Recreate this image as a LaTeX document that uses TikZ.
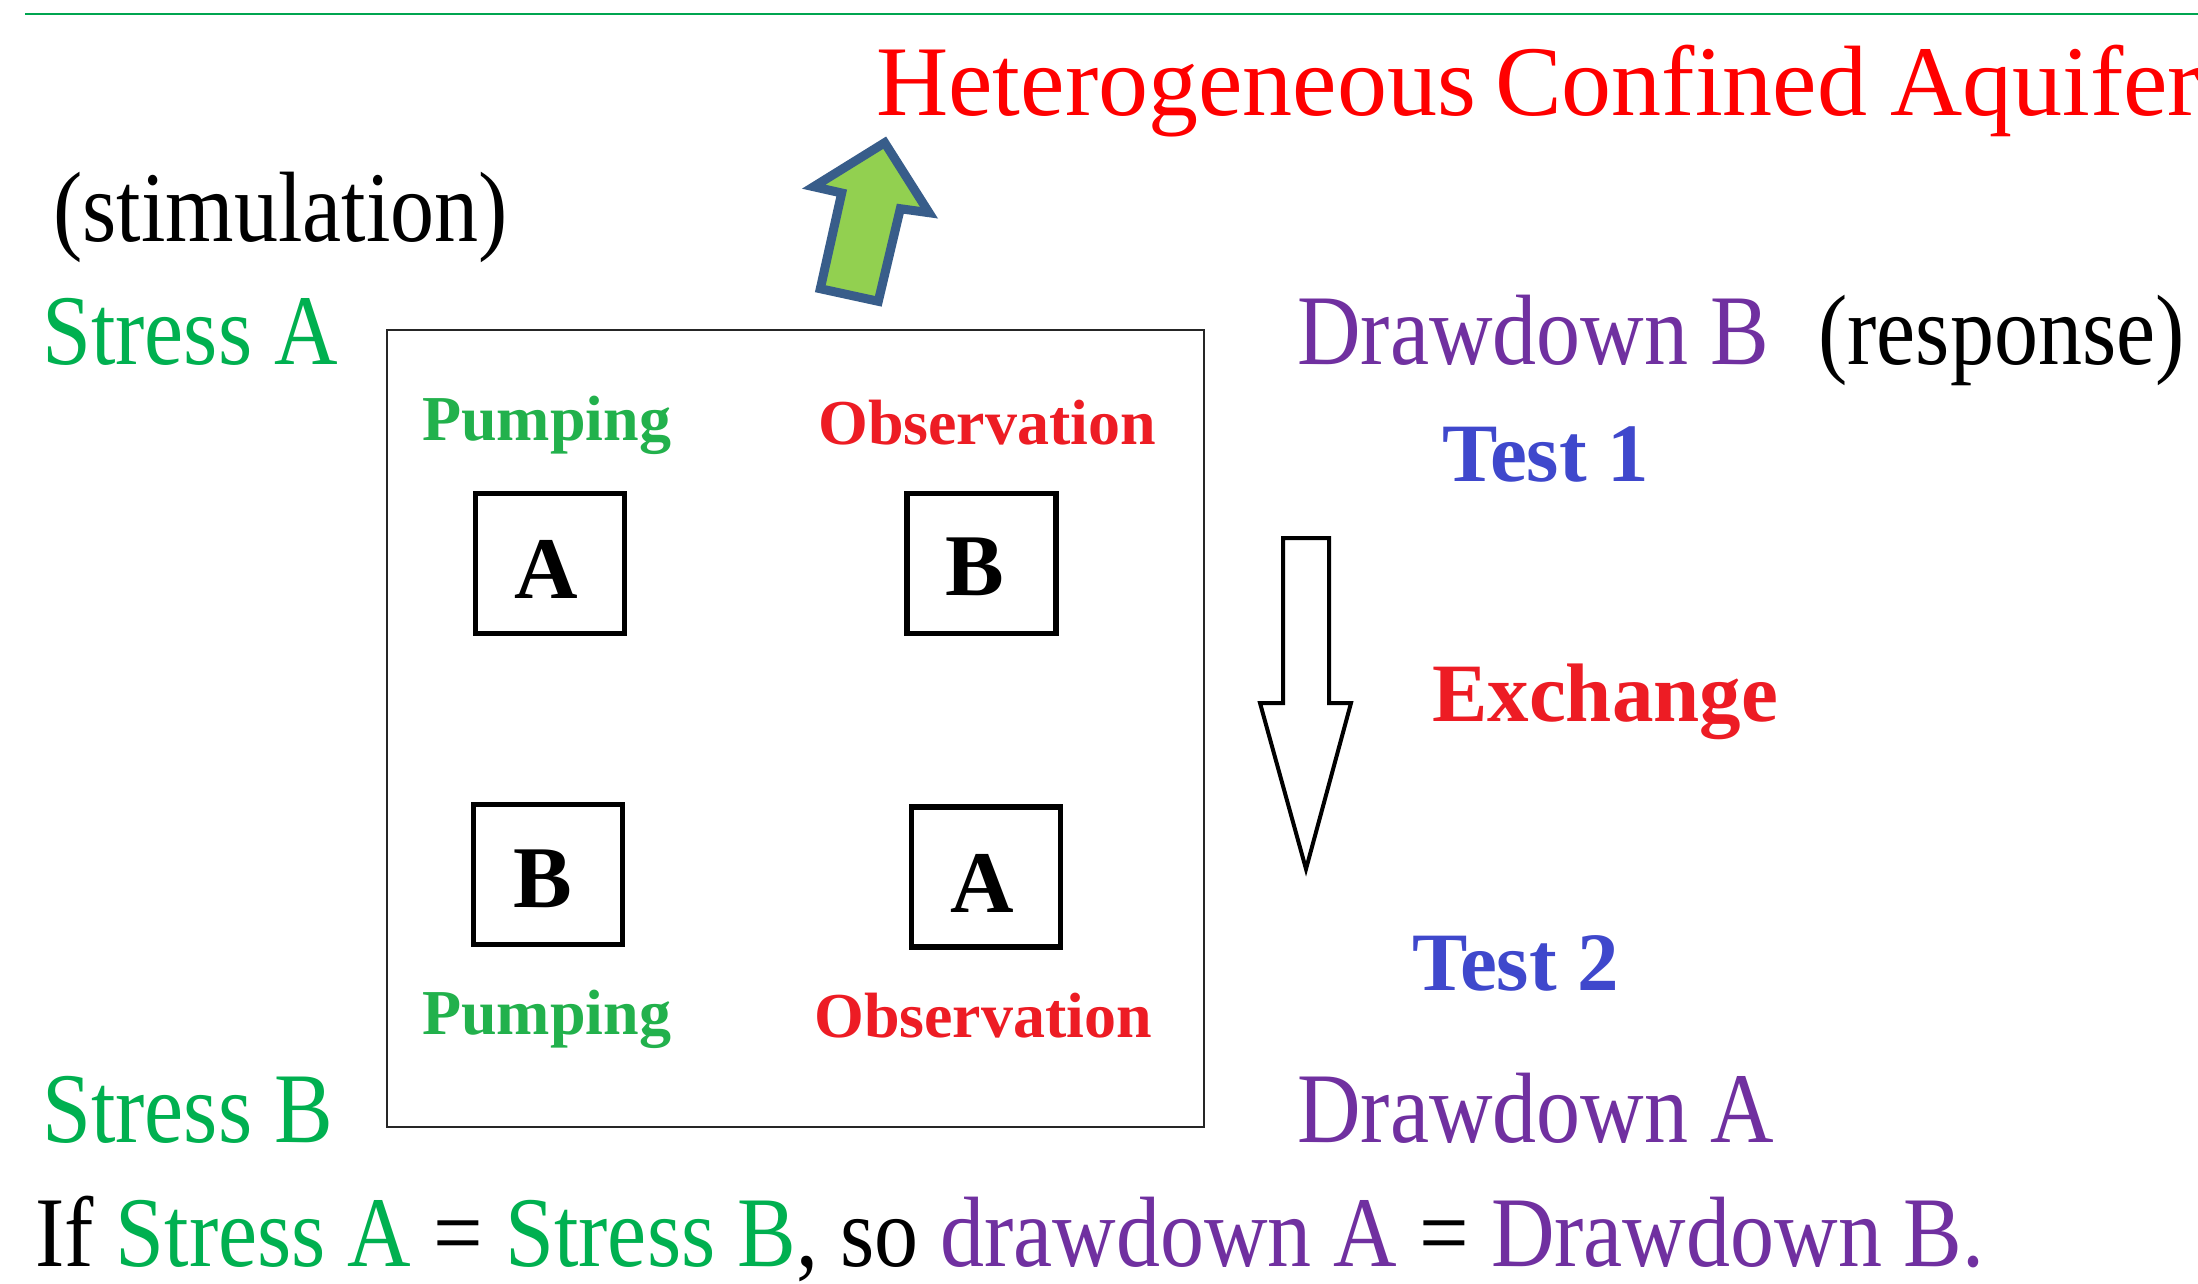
\documentclass[tikz,border=0pt]{standalone}
\usepackage{fontspec}
\setmainfont{Liberation Serif}
\newfontfamily\condfont{Liberation Serif}[FakeStretch=0.88]
\definecolor{stressgreen}{HTML}{00B050}
\definecolor{ddpurple}{HTML}{7030A0}
\definecolor{pumpgreen}{HTML}{22B14C}
\definecolor{obsred}{HTML}{ED1C24}
\definecolor{testblue}{HTML}{3F48CC}
\definecolor{arrowfill}{HTML}{92D050}
\definecolor{arrowline}{HTML}{385D8A}
\definecolor{rulegreen}{HTML}{00A550}
\begin{document}
\begin{tikzpicture}[x=1pt,y=-1pt,
  txt/.style={inner sep=0pt, anchor=base west, font=\condfont\fontsize{100}{110}\selectfont},
  headtxt/.style={inner sep=0pt, anchor=base west, text=red, font=\fontsize{100}{110}\selectfont},
  lbl/.style={inner sep=0pt, anchor=base west, font=\bfseries\fontsize{64}{70}\selectfont},
  testlbl/.style={inner sep=0pt, anchor=base west, font=\bfseries\fontsize{83}{90}\selectfont},
  wellbox/.style={draw=black, line width=5.5pt, minimum width=149pt, minimum height=140pt, inner sep=0pt},
  wellletter/.style={inner sep=0pt, anchor=base, font=\bfseries\fontsize{88}{90}\selectfont}]
\useasboundingbox (0,0) rectangle (2198,1283);
\fill[white] (0,0) rectangle (2198,1283);
% top rule
\coordinate (ruleL) at (25,14);
\coordinate (ruleR) at (2198,14);
\draw[rulegreen, line width=2.5pt] (ruleL) -- (ruleR);
% heading
\node[headtxt] (head) at (876,115) {Heterogeneous\hspace{-6pt} Confined\hspace{-2pt} Aquifer};
% green up arrow
\draw[arrowline, fill=arrowfill, line width=9pt, line join=miter]
  (884.7,142.7) -- (929,212.7) -- (900.3,208.7) -- (878.3,301.3) -- (820.3,288.7) -- (841.7,193) -- (813.7,186.7) -- cycle;
% left texts
\node[txt] (stim) at (53,241) {(stimulation)};
\node[txt, text=stressgreen] (stressA) at (42,364) {Stress A};
\node[txt, text=stressgreen] (stressB) at (42,1142) {Stress B};
% right texts
\node[txt, text=ddpurple] (ddB) at (1297,364) {Drawdown B};
\node[txt] (resp) at (1818,364) {(response)};
\node[txt, text=ddpurple] (ddA) at (1297,1142) {Drawdown A};
% main box
\draw[black!85, line width=2.5pt] (387,330) rectangle (1204,1127);
\node[lbl, text=pumpgreen] (pump1) at (422,440) {Pumping};
\node[lbl, text=obsred] (obs1) at (818,444) {Observation};
\node[lbl, text=pumpgreen] (pump2) at (422,1034) {Pumping};
\node[lbl, text=obsred] (obs2) at (814,1037) {Observation};
\node[wellbox] (wA1) at (550,563.5) {};
\node[wellbox] (wB1) at (981.5,563.5) {};
\node[wellbox] (wB2) at (548,874.5) {};
\node[wellbox] (wA2) at (986,877) {};
\node[wellletter] (lA1) at (546,598) {A};
\node[wellletter] (lB1) at (975,595) {B};
\node[wellletter] (lB2) at (543,907) {B};
\node[wellletter] (lA2) at (982,912) {A};
% exchange arrow
\draw[black, line width=4pt, line join=miter]
  (1283,538) -- (1329,538) -- (1329,703) -- (1351,703) -- (1306,869) -- (1260,703) -- (1283,703) -- cycle;
\node[testlbl, text=testblue] (test1) at (1442,481) {Test 1};
\node[testlbl, text=obsred] (exch) at (1432,721) {Exchange};
\node[testlbl, text=testblue] (test2) at (1412,990) {Test 2};
% bottom sentence
\node[txt] (concl) at (35,1266) {If \textcolor{stressgreen}{Stress A} = \textcolor{stressgreen}{Stress B}, so \textcolor{ddpurple}{drawdown A} = \textcolor{ddpurple}{Drawdown B.}};
\end{tikzpicture}
\end{document}
